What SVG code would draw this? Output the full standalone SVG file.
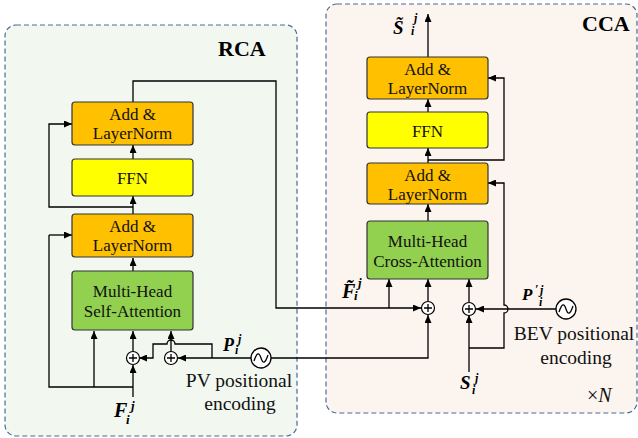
<svg xmlns="http://www.w3.org/2000/svg" width="638" height="438" viewBox="0 0 638 438">
<defs>
<marker id="ah" markerUnits="userSpaceOnUse" markerWidth="8" markerHeight="7" refX="8" refY="3.5" orient="auto">
<path d="M0,0 L8,3.5 L0,7 z" fill="#000"/>
</marker>
<style>
.panel{stroke:#4a6b9c;stroke-width:1.2;stroke-dasharray:5,3}
.box{stroke:#333;stroke-width:1.2}
.aln{fill:#ffc000}
.ffn{fill:#ffff00}
.mh{fill:#92d050}
text{font-family:'Liberation Serif','Tinos','Times New Roman','Nimbus Roman','DejaVu Serif',serif}
.t{font-size:17px;fill:#111;text-anchor:middle}
.lbl{font-size:19.5px;fill:#111;text-anchor:middle}
.title{font-size:22px;font-weight:bold;fill:#000}
.m{font-weight:bold;font-style:italic;fill:#000}
.c{fill:none;stroke:#000;stroke-width:1.3}
.ca{fill:none;stroke:#000;stroke-width:1.3;marker-end:url(#ah)}
.plus{fill:#fff;stroke:#000;stroke-width:1.2}
.sine{fill:#fff;stroke:#000;stroke-width:1.3}
</style>
</defs>

<g id="panel-rca">
<rect class="panel" x="5" y="25" width="292" height="411" rx="11" fill="#f2f7f0"/>
<text class="title" x="218" y="56">RCA</text>
</g>
<g id="panel-cca">
<rect class="panel" x="326" y="4" width="311" height="409" rx="11" fill="#fcf4ef"/>
<text class="title" x="582" y="31">CCA</text>
<text x="587" y="402" font-size="20" fill="#111">×<tspan font-style="italic">N</tspan></text>
</g>

<g id="connectors">
<path class="ca" d="M133,397 L133,365"/>
<path class="c" d="M133,387 L49,387 L49,235"/>
<path class="ca" d="M49,235 L72,235"/>
<path class="ca" d="M94,387 L94,331"/>
<path class="ca" d="M133,352 L133,331"/>
<path class="ca" d="M171,352 L171,331"/>
<path class="ca" d="M251,358 L178,358"/>
<path class="ca" d="M212,358 L212,344 L175,344 A4,4 0 0 0 167,344 L153,344 L153,358 L139,358"/>
<path class="ca" d="M133,271 L133,258"/>
<path class="ca" d="M133,214 L133,196"/>
<path class="ca" d="M133,207 L49,207 L49,124 L72,124"/>
<path class="ca" d="M133,159 L133,145"/>
<path class="ca" d="M133,102 L133,81 L276,81 L276,308 L421,308"/>
<path class="ca" d="M389,308 L389,279"/>
<path class="ca" d="M271,358 L428,358 L428,315"/>
<path class="ca" d="M428,301 L428,279"/>
<path class="ca" d="M469,302 L469,279"/>
<path class="ca" d="M469,372 L469,315"/>
<path class="ca" d="M469,348 L504,348 L504,313 A4,4 0 0 0 504,305 L504,183 L488,183"/>
<path class="ca" d="M556,309 L476,309"/>
<path class="ca" d="M428,221 L428,204"/>
<path class="ca" d="M428,163 L428,148"/>
<path class="ca" d="M428,160 L504,160 L504,78 L488,78"/>
<path class="ca" d="M428,112 L428,99"/>
<path class="ca" d="M428,57 L428,14"/>
</g>

<g id="rca-aln1">
<rect class="box aln" x="72" y="102" width="121" height="43" rx="3"/>
<text class="t" x="132.5" y="120">Add &amp;</text>
<text class="t" x="132.5" y="139">LayerNorm</text>
</g>
<g id="rca-ffn">
<rect class="box ffn" x="72" y="159" width="121" height="37" rx="3"/>
<text class="t" x="132.5" y="184">FFN</text>
</g>
<g id="rca-aln2">
<rect class="box aln" x="72" y="214" width="121" height="43" rx="3"/>
<text class="t" x="132.5" y="232">Add &amp;</text>
<text class="t" x="132.5" y="251">LayerNorm</text>
</g>
<g id="rca-mhsa">
<rect class="box mh" x="72" y="271" width="121" height="59" rx="3"/>
<text class="t" x="132.5" y="297">Multi-Head</text>
<text class="t" x="132.5" y="317">Self-Attention</text>
</g>

<g id="rca-plus1">
<circle class="plus" cx="133" cy="358" r="6.5"/>
<path class="c" stroke-width="1" d="M129,358 H137 M133,354 V362"/>
</g>
<g id="rca-plus2">
<circle class="plus" cx="171" cy="358" r="6.5"/>
<path class="c" stroke-width="1" d="M167,358 H175 M171,354 V362"/>
</g>
<g id="pv-enc">
<circle class="sine" cx="261" cy="358" r="10"/>
<path class="c" d="M254,361 C257,352 259,352 261,358 C263,364 265,364 268,355"/>
<text class="lbl" x="239" y="387">PV positional</text>
<text class="lbl" x="240" y="410">encoding</text>
</g>

<g id="cca-aln-top">
<rect class="box aln" x="367" y="57" width="121" height="42" rx="3"/>
<text class="t" x="427.5" y="75">Add &amp;</text>
<text class="t" x="427.5" y="94">LayerNorm</text>
</g>
<g id="cca-ffn">
<rect class="box ffn" x="367" y="112" width="121" height="36" rx="3"/>
<text class="t" x="427.5" y="137">FFN</text>
</g>
<g id="cca-aln-low">
<rect class="box aln" x="367" y="163" width="121" height="41" rx="3"/>
<text class="t" x="427.5" y="181">Add &amp;</text>
<text class="t" x="427.5" y="200">LayerNorm</text>
</g>
<g id="cca-mhca">
<rect class="box mh" x="367" y="221" width="121" height="58" rx="3"/>
<text class="t" x="427.5" y="247">Multi-Head</text>
<text class="t" x="427.5" y="267">Cross-Attention</text>
</g>
<g id="cca-plus1">
<circle class="plus" cx="428" cy="308" r="6.5"/>
<path class="c" stroke-width="1" d="M424,308 H432 M428,304 V312"/>
</g>
<g id="cca-plus2">
<circle class="plus" cx="469" cy="309" r="6.5"/>
<path class="c" stroke-width="1" d="M465,309 H473 M469,305 V313"/>
</g>
<g id="bev-enc">
<circle class="sine" cx="566" cy="309" r="10"/>
<path class="c" d="M559,312 C562,303 564,303 566,309 C568,315 570,315 573,306"/>
<text class="lbl" x="574" y="340">BEV positional</text>
<text class="lbl" x="576" y="364">encoding</text>
</g>

<g id="labels">
<text class="m" x="114" y="417" font-size="20">F</text>
<text class="m" x="131" y="410" font-size="13">j</text>
<text class="m" x="126" y="424" font-size="13">i</text>

<text class="m" x="223" y="351" font-size="18">P</text>
<text class="m" x="238" y="343" font-size="12">j</text>
<text class="m" x="235" y="354" font-size="12">i</text>

<text class="m" x="342" y="298" font-size="20">F̃</text>
<text class="m" x="358" y="287" font-size="13">j</text>
<text class="m" x="354" y="300" font-size="13">i</text>

<text class="m" x="393" y="34" font-size="19">S̃</text>
<text class="m" x="414" y="22" font-size="12">j</text>
<text class="m" x="411" y="35" font-size="12">i</text>

<text class="m" x="460" y="389" font-size="19">S</text>
<text class="m" x="475" y="382" font-size="12">j</text>
<text class="m" x="472" y="394" font-size="12">i</text>

<text class="m" x="522" y="300" font-size="17">P</text>
<text class="m" x="535" y="293" font-size="12">′</text>
<text class="m" x="540" y="294" font-size="12">j</text>
<text class="m" x="539" y="306" font-size="12">i</text>
</g>
</svg>
